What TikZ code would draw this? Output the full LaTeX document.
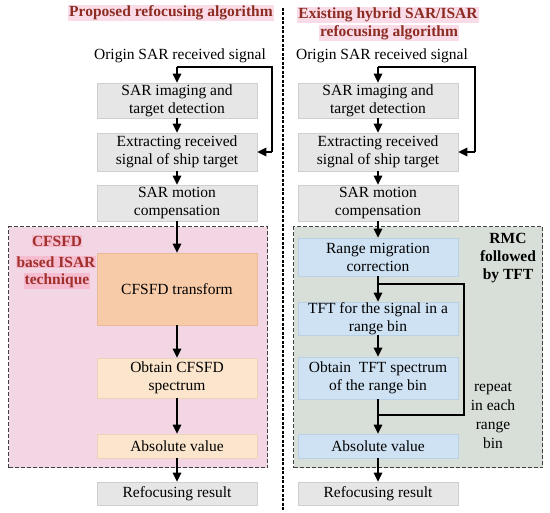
\documentclass[tikz,border=0pt]{standalone}
\usepackage{fontspec}
\setmainfont{Liberation Serif}
\usetikzlibrary{arrows.meta}
\definecolor{greyfill}{HTML}{E6E6E6}
\definecolor{greyline}{HTML}{CFCFCF}
\definecolor{pinkreg}{HTML}{F3D6E3}
\definecolor{greenreg}{HTML}{D8DFD8}
\definecolor{orangefill}{HTML}{F8CBA8}
\definecolor{orangeline}{HTML}{E9BA98}
\definecolor{peachfill}{HTML}{FBE5CC}
\definecolor{peachline}{HTML}{EBD3BA}
\definecolor{bluefill}{HTML}{CFE2F3}
\definecolor{blueline}{HTML}{BAD0E4}
\definecolor{titlered}{HTML}{8C2C22}
\definecolor{titlehl}{HTML}{FADCE8}
\definecolor{techred}{HTML}{A0302C}
\definecolor{techhl}{HTML}{F6BCD0}
\tikzset{
  base/.style={font=\fontsize{15.5}{18}\selectfont},
  stepbox/.style={base, draw=#1line, line width=0.7pt, minimum width=160pt, align=center, inner sep=0pt},
  greybox/.style={stepbox=grey, fill=greyfill},
  orangebox/.style={stepbox=orange, fill=orangefill},
  peachbox/.style={stepbox=peach, fill=peachfill},
  bluebox/.style={stepbox=blue, fill=bluefill},
  region/.style={draw=black!75, dash pattern=on 4pt off 2pt, line width=1.1pt, anchor=north west, inner sep=0pt},
  titletext/.style={font=\fontsize{15.5}{18}\selectfont\bfseries, text=titlered, fill=titlehl, inner sep=1pt},
  techtext/.style={font=\fontsize{15.5}{19}\selectfont\bfseries, text=techred, fill=techhl, inner sep=0.5pt},
  plain/.style={base, inner sep=0pt, align=center},
  arr/.style={-{Triangle[length=9pt,width=8.5pt]}, line width=1.4pt},
  fb/.style={line width=1.4pt},
}
\begin{document}
\begin{tikzpicture}[x=1pt,y=-1pt]
\useasboundingbox (0,0) rectangle (550,513);
% regions
\node[region, fill=pinkreg, minimum width=259pt, minimum height=241pt] (lreg) at (8,226) {};
\node[region, fill=greenreg, minimum width=249pt, minimum height=241pt] (rreg) at (293,226) {};
% separator
\coordinate (sepT) at (283,8);
\coordinate (sepB) at (283,510);
\draw[line width=2.2pt, dash pattern=on 3pt off 1.5pt] (sepT) -- (sepB);
% titles
\node[titletext] (ltitle) at (171,13) {Proposed refocusing algorithm};
\node[titletext] (rtitle1) at (388,15) {Existing hybrid SAR/ISAR};
\node[titletext] (rtitle2) at (389,33) {refocusing algorithm};
% left column
\node[plain] (lorig) at (180,56) {Origin SAR received signal};
\node[greybox, minimum height=35pt] (l1) at (177,100.5) {SAR imaging and\\target detection};
\node[greybox, minimum height=38pt] (l2) at (177,152) {Extracting received\\signal of ship target};
\node[greybox, minimum height=36pt] (l3) at (177,203) {SAR motion\\compensation};
\node[orangebox, minimum height=72pt] (l4) at (177,289) {CFSFD transform};
\node[peachbox, minimum height=40pt] (l5) at (177,378) {Obtain CFSFD\\spectrum};
\node[peachbox, minimum height=24pt] (l6) at (177,446) {Absolute value};
\node[greybox, minimum height=23pt] (l7) at (177,493.5) {Refocusing result};
\node[techtext] (tech1) at (57,241) {CFSFD};
\node[techtext] (tech2) at (56,262) {based ISAR};
\node[techtext] (tech3) at (57,281) {technique};
% right column
\node[plain] (rorig) at (382,56) {Origin SAR received signal};
\node[greybox, minimum height=35pt] (r1) at (378,100.5) {SAR imaging and\\target detection};
\node[greybox, minimum height=38pt] (r2) at (378,152) {Extracting received\\signal of ship target};
\node[greybox, minimum height=36pt] (r3) at (378,203) {SAR motion\\compensation};
\node[bluebox, minimum height=38pt] (r4) at (378,257) {Range migration\\correction};
\node[bluebox, minimum height=33pt] (r5) at (378,318.5) {TFT for the signal in a\\range bin};
\node[bluebox, minimum height=42pt] (r6) at (378,378) {Obtain~~TFT spectrum\\of the range bin};
\node[bluebox, minimum height=24pt] (r7) at (378,446) {Absolute value};
\node[greybox, minimum height=23pt] (r8) at (378,493.5) {Refocusing result};
\node[base, font=\fontsize{15.5}{18}\selectfont\bfseries, align=center, inner sep=0pt] (rmc) at (508,258) {RMC\\followed\\by TFT};
\node[base, font=\fontsize{15.5}{19}\selectfont, align=center, inner sep=0pt] (rep) at (493,416) {repeat\\in each\\range\\bin};
% left arrows
\coordinate (ls) at (177,67);
\coordinate (lfa) at (272,67);
\coordinate (lfb) at (272,152);
\draw[arr] (ls) -- (l1.north);
\draw[fb] (ls) -- (lfa) -- (lfb);
\draw[arr] (lfb) -- (l2.east);
\draw[arr] (l1) -- (l2);
\draw[arr] (l2) -- (l3);
\draw[arr] (l3) -- (l4);
\draw[arr] (l4) -- (l5);
\draw[arr] (l5) -- (l6);
\draw[arr] (l6) -- (l7);
% right arrows
\coordinate (rs) at (378,67);
\coordinate (rfa) at (475,67);
\coordinate (rfb) at (475,152);
\draw[arr] (rs) -- (r1.north);
\draw[fb] (rs) -- (rfa) -- (rfb);
\draw[arr] (rfb) -- (r2.east);
\draw[arr] (r1) -- (r2);
\draw[arr] (r2) -- (r3);
\draw[arr] (r3) -- (r4);
\draw[arr] (r4) -- (r5);
\draw[arr] (r5) -- (r6);
\draw[arr] (r6) -- (r7);
\draw[arr] (r7) -- (r8);
\coordinate (loopA) at (378,284);
\coordinate (loopB) at (464,284);
\coordinate (loopC) at (464,415);
\coordinate (loopD) at (378,415);
\draw[fb] (loopA) -- (loopB) -- (loopC) -- (loopD);
\end{tikzpicture}
\end{document}
